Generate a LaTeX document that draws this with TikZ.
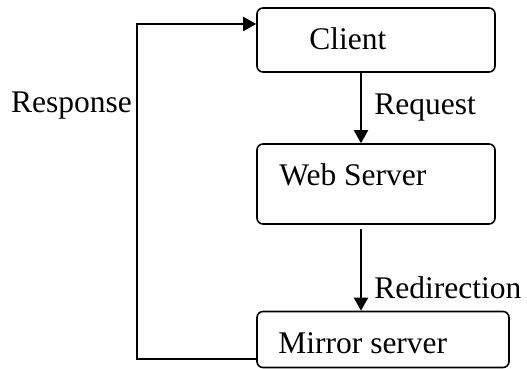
\documentclass[tikz,border=0pt]{standalone}
\usepackage{fontspec}
\setmainfont{Liberation Serif}
\usepackage{tikz}
\usetikzlibrary{arrows.meta}
\tikzstyle{server} = [rectangle, rounded corners=6pt, minimum width=238pt, minimum height=64pt, draw=black, line width=1.6pt, inner sep=0pt]
\tikzstyle{boxtext} = [anchor=base west, inner sep=0pt]
\tikzstyle{arrow} = [line width=2pt, -{Triangle[length=13pt,width=14pt]}]

\begin{document}
\begin{tikzpicture}[x=1pt, y=1pt, font=\fontsize{31.5}{37}\selectfont]
    \useasboundingbox (0,0) rectangle (527,369);

    % Nodes
    \node (client) [server] at (376,329) {};
    \node (web) [server, minimum height=80pt] at (376,185) {};
    \node (mirror) [server, minimum width=252pt, minimum height=56pt] at (383,29.5) {};
    \node (clienttext) [boxtext] at ([shift={(53,-42)}]client.north west) {Client};
    \node (webtext) [boxtext] at ([shift={(23,-42)}]web.north west) {Web Server};
    \node (mirrortext) [boxtext] at ([shift={(22,-43)}]mirror.north west) {Mirror server};
    \node (response) [anchor=base east, inner sep=0pt] at (132,256) {Response};

    % Arrows
    \draw [arrow] ([xshift=-15pt]client.south) -- ([xshift=-15pt]web.north) node[midway, right, xshift=9pt] {Request};
    \coordinate (redir) at ([xshift=-15pt, yshift=-4pt]web.south);
    \draw [arrow] (redir) -- (redir |- mirror.north) node[pos=0.72, right, xshift=9pt] {Redirection};
    \draw [arrow] ([yshift=-20pt]mirror.west) -- ++(-119,0) |- ([yshift=16pt]client.west);

\end{tikzpicture}
\end{document}
